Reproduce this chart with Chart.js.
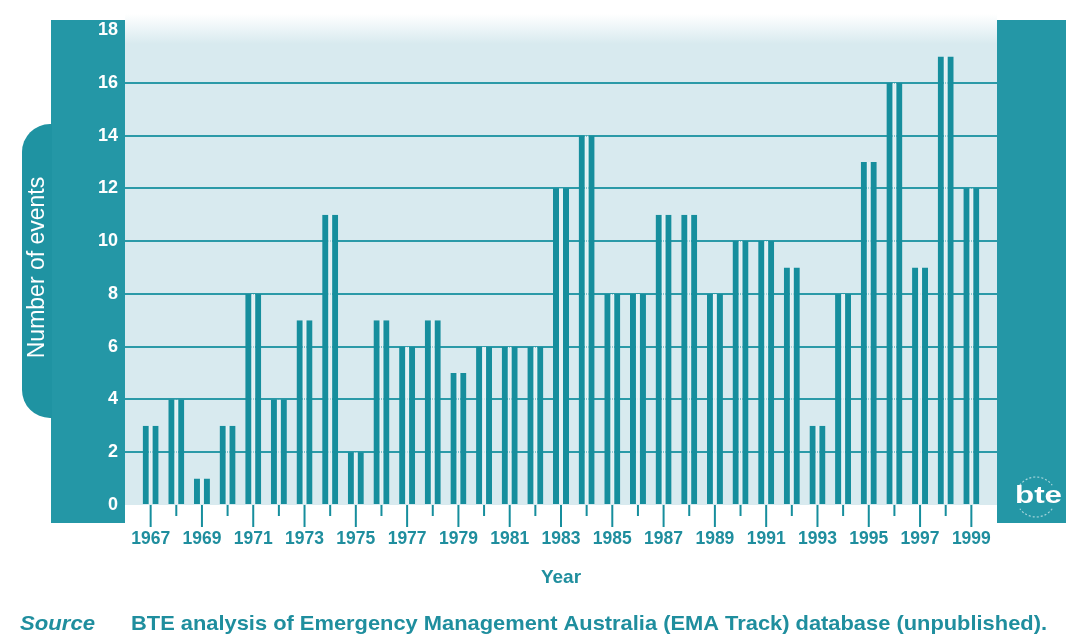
<!DOCTYPE html>
<html>
<head>
<meta charset="utf-8">
<script src="https://cdn.jsdelivr.net/npm/chart.js@4/dist/chart.umd.min.js"></script>
<style>
  html, body { margin: 0; padding: 0; background: #ffffff; }
  #wrap { width: 1066px; height: 639px; }
</style>
</head>
<body>
<div id="wrap"><canvas id="c" width="1066" height="639"></canvas></div>
<script>
// ---- data ----
const years = [1967, 1968, 1969, 1970, 1971, 1972, 1973, 1974, 1975, 1976, 1977,
               1978, 1979, 1980, 1981, 1982, 1983, 1984, 1985, 1986, 1987, 1988,
               1989, 1990, 1991, 1992, 1993, 1994, 1995, 1996, 1997, 1998, 1999];
const events = [3, 4, 1, 3, 8, 4, 7, 11, 2, 7, 6,
                7, 5, 6, 6, 6, 12, 14, 8, 8, 11, 11,
                8, 10, 10, 9, 3, 8, 13, 16, 9, 17, 12];
const yearTickLabels = ['1967', '1969', '1971', '1973', '1975', '1977', '1979', '1981',
                        '1983', '1985', '1987', '1989', '1991', '1993', '1995', '1997', '1999'];
const yTickValues = [0, 2, 4, 6, 8, 10, 12, 14, 16, 18];
const yAxisTitle = 'Number of events';
const xAxisTitle = 'Year';
const sourceLabel = 'Source';
const sourceText = 'BTE analysis of Emergency Management Australia (EMA Track) database (unpublished).';

// ---- styles ----
const TEAL = '#2497a6';
const BAR = '#168e9d';
const GRID = '#2b9aa8';
const BG = '#d8eaef';
const GAP = '#e6f2f5';
const TEXT = '#1f8e9e';
const FONT = "'Liberation Sans', Arial, Helvetica, sans-serif";

const points = years.map((y, i) => ({ x: y, y: events[i] }));

function fitText(ctx, text, x, y, w) {
  const m = ctx.measureText(text).width;
  ctx.save();
  ctx.translate(x, y);
  ctx.scale(w / m, 1);
  ctx.fillText(text, 0, 0);
  ctx.restore();
}

const decor = {
  id: 'decor',
  beforeDraw(chart) {
    const ctx = chart.ctx;
    const area = chart.chartArea;
    const xs = chart.scales.x;
    ctx.save();
    ctx.fillStyle = '#ffffff';
    ctx.fillRect(0, 0, chart.width, chart.height);

    // plot background with faded top
    const g = ctx.createLinearGradient(0, 14, 0, 44);
    g.addColorStop(0, '#ffffff');
    g.addColorStop(1, BG);
    ctx.fillStyle = g;
    ctx.fillRect(area.left, 14, area.right - area.left, area.bottom - 14);

    // left and right teal columns
    ctx.fillStyle = TEAL;
    ctx.fillRect(51, 20, area.left - 51, 503);
    ctx.fillRect(area.right, 20, chart.width - area.right, 503);

    // rounded tab for axis title
    const tx = 22, ty = 124, tw = 30, th = 294, r = 28;
    ctx.beginPath();
    ctx.moveTo(tx + tw, ty);
    ctx.lineTo(tx + r, ty);
    ctx.arcTo(tx, ty, tx, ty + r, r);
    ctx.lineTo(tx, ty + th - r);
    ctx.arcTo(tx, ty + th, tx + r, ty + th, r);
    ctx.lineTo(tx + tw, ty + th);
    ctx.closePath();
    ctx.fillStyle = '#1f93a2';
    ctx.fill();

    // year tick marks below the plot
    ctx.strokeStyle = BAR;
    ctx.lineWidth = 2;
    years.forEach((yr) => {
      const px = xs.getPixelForValue(yr);
      const long = yearTickLabels.includes(String(yr));
      ctx.beginPath();
      ctx.moveTo(px, area.bottom);
      ctx.lineTo(px, area.bottom + (long ? 22 : 11));
      ctx.stroke();
    });

    // bte logo
    ctx.fillStyle = '#ffffff';
    ctx.font = 'bold 24px ' + FONT;
    ctx.textBaseline = 'alphabetic';
    ctx.textAlign = 'left';
    fitText(ctx, 'bte', 1015, 503, 47);
    ctx.strokeStyle = 'rgba(255,255,255,0.6)';
    ctx.lineWidth = 1.2;
    ctx.setLineDash([2, 2]);
    ctx.beginPath();
    ctx.arc(1036, 497, 20, Math.PI * 1.2, Math.PI * 1.8);
    ctx.stroke();
    ctx.beginPath();
    ctx.arc(1036, 497, 20, Math.PI * 0.2, Math.PI * 0.8);
    ctx.stroke();
    ctx.setLineDash([]);
    ctx.restore();
  },
  afterDraw(chart) {
    const ctx = chart.ctx;
    ctx.save();
    ctx.fillStyle = TEXT;
    ctx.textBaseline = 'alphabetic';
    ctx.textAlign = 'left';
    ctx.font = 'italic bold 21px ' + FONT;
    fitText(ctx, sourceLabel, 20, 630, 75);
    ctx.font = 'bold 21px ' + FONT;
    fitText(ctx, sourceText, 131, 630, 916);
    ctx.restore();
  }
};

const common = {
  backgroundColor: BAR,
  borderColor: GAP,
  barThickness: 8,
  inflateAmount: 0,
  borderSkipped: false
};

new Chart(document.getElementById('c'), {
  type: 'bar',
  data: {
    datasets: [
      Object.assign({ label: 'Number of events', data: points, borderWidth: { left: 0, right: 2, top: 0, bottom: 0 } }, common),
      Object.assign({ label: 'Number of events ', data: points, borderWidth: { left: 2, right: 0, top: 0, bottom: 0 } }, common)
    ]
  },
  options: {
    responsive: false,
    animation: false,
    devicePixelRatio: 1,
    layout: { padding: { left: 0, right: 69, top: 30, bottom: 50 } },
    plugins: { legend: { display: false }, tooltip: { enabled: false } },
    scales: {
      x: {
        type: 'linear',
        min: 1966,
        max: 2000,
        offset: false,
        afterFit(s) { s.height = 84; },
        afterBuildTicks(s) { s.ticks = years.map(v => ({ value: v })); },
        grid: { display: true, drawOnChartArea: false, drawTicks: false },
        border: { display: false },
        ticks: {
          autoSkip: false,
          maxRotation: 0,
          padding: 24,
          color: TEXT,
          font: { family: FONT, size: 17.5, weight: 'bold' },
          callback: (v) => yearTickLabels.includes(String(v)) ? String(v) : ''
        },
        title: {
          display: true,
          text: xAxisTitle,
          color: TEXT,
          padding: { top: 0, bottom: 0 },
          font: { family: FONT, size: 19, weight: 'bold' }
        }
      },
      y: {
        min: 0,
        max: 18,
        afterFit(s) { s.width = 125; },
        afterBuildTicks(s) { s.ticks = yTickValues.map(v => ({ value: v })); },
        grid: {
          drawTicks: false,
          lineWidth: 2,
          color: (c) => (c.tick && (c.tick.value === 0 || c.tick.value === 18)) ? 'rgba(0,0,0,0)' : GRID
        },
        border: { display: false },
        ticks: {
          padding: 7,
          color: '#ffffff',
          font: { family: FONT, size: 18, weight: 'bold' }
        },
        title: {
          display: true,
          text: yAxisTitle,
          color: '#ffffff',
          align: 'center',
          padding: { top: 24, bottom: 0 },
          font: { family: FONT, size: 23, weight: 'normal' }
        }
      }
    }
  },
  plugins: [decor]
});
</script>
</body>
</html>
